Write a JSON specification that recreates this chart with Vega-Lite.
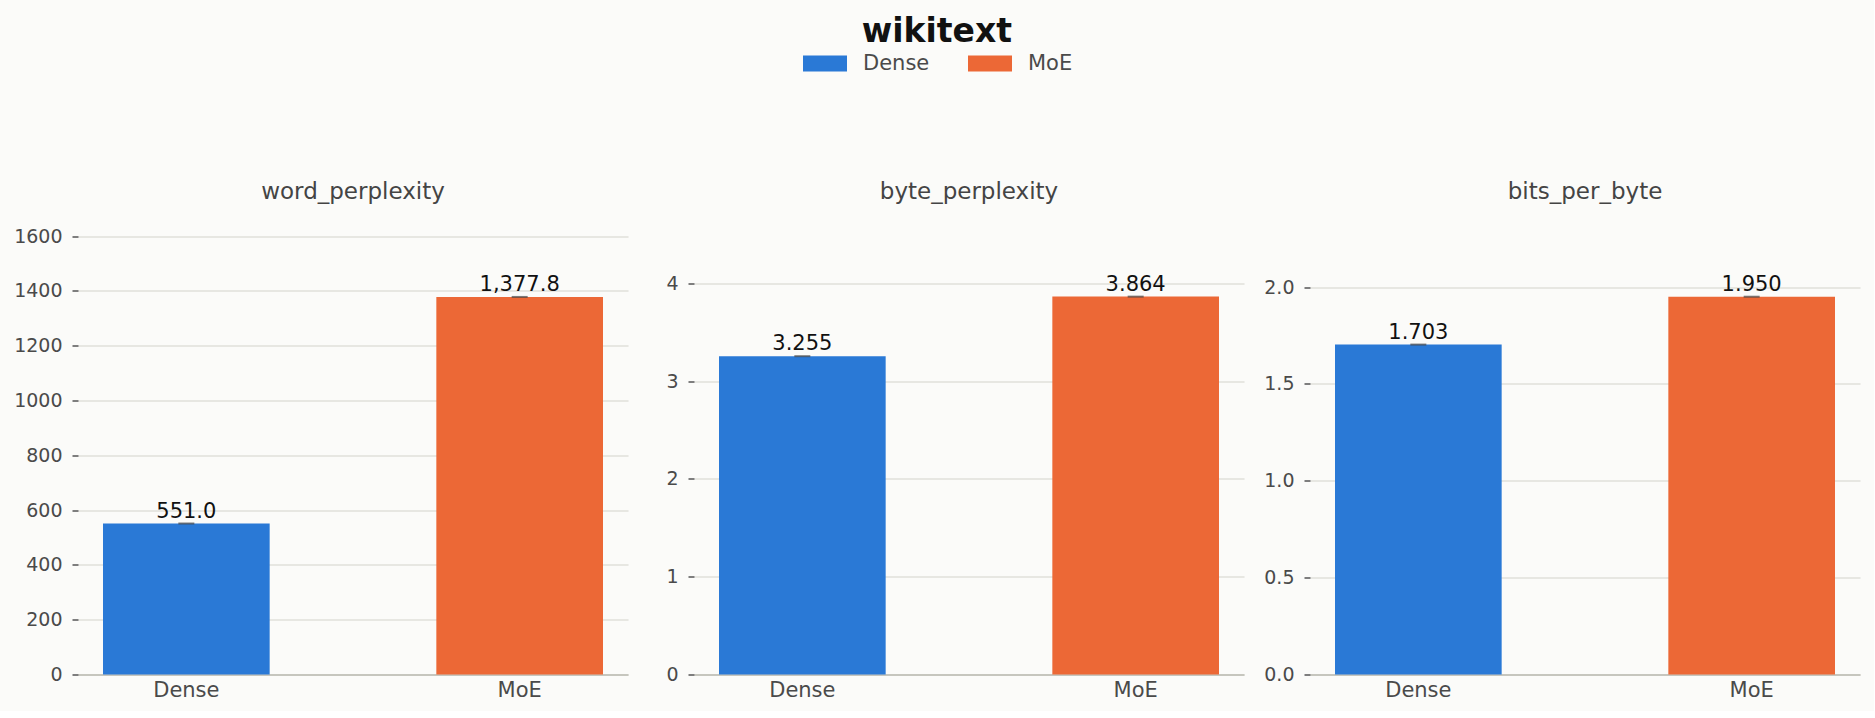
{
  "$schema": "https://vega.github.io/schema/vega-lite/v6.json",
  "background": "#fbfbf9",
  "padding": {"left": 13, "top": 15.5, "right": 14, "bottom": 10},
  "bounds": "flush",
  "spacing": 66,
  "title": {"text": "wikitext", "fontSize": 33, "fontWeight": "bold", "color": "#111111", "anchor": "middle", "offset": -7.5},
  "data": {"values": [
    {"metric": "word_perplexity", "model": "Dense", "value": 551.0},
    {"metric": "word_perplexity", "model": "MoE", "value": 1377.8},
    {"metric": "byte_perplexity", "model": "Dense", "value": 3.255},
    {"metric": "byte_perplexity", "model": "MoE", "value": 3.864},
    {"metric": "bits_per_byte", "model": "Dense", "value": 1.703},
    {"metric": "bits_per_byte", "model": "MoE", "value": 1.950}
  ]},
  "hconcat": [
    {
      "width": 550, "height": 439,
      "title": {"text": "word_perplexity", "offset": 23},
      "transform": [{"filter": "datum.metric === 'word_perplexity'"}],
      "encoding": {
        "x": {"field": "model", "type": "nominal", "sort": ["Dense", "MoE"], "scale": {"paddingInner": 0.5, "paddingOuter": 0.075}},
        "y": {"field": "value", "type": "quantitative", "scale": {"domain": [0, 1602], "nice": false}, "axis": {"values": [0, 200, 400, 600, 800, 1000, 1200, 1400, 1600], "format": "d"}}
      },
      "layer": [
        {"mark": {"type": "bar"}, "encoding": {"color": {"field": "model", "type": "nominal", "scale": {"domain": ["Dense", "MoE"], "range": ["#2a79d6", "#ec6836"]}, "legend": {"orient": "none", "legendX": 725, "legendY": -194, "direction": "horizontal", "title": null}}}},
        {"mark": {"type": "tick", "size": 16, "thickness": 2, "color": "#444444"}, "encoding": {}},
        {"mark": {"type": "text", "dy": -6, "baseline": "alphabetic", "fontSize": 21, "color": "#111111"}, "encoding": {"text": {"field": "value", "type": "quantitative", "format": ",.1f"}}}
      ]
    },
    {
      "width": 550, "height": 439,
      "title": {"text": "byte_perplexity"},
      "transform": [{"filter": "datum.metric === 'byte_perplexity'"}],
      "encoding": {
        "x": {"field": "model", "type": "nominal", "sort": ["Dense", "MoE"], "scale": {"paddingInner": 0.5, "paddingOuter": 0.075}},
        "y": {"field": "value", "type": "quantitative", "scale": {"domain": [0, 4.489], "nice": false}, "axis": {"values": [0, 1, 2, 3, 4], "format": "d"}}
      },
      "layer": [
        {"mark": {"type": "bar"}, "encoding": {"color": {"field": "model", "type": "nominal", "scale": {"domain": ["Dense", "MoE"], "range": ["#2a79d6", "#ec6836"]}, "legend": {"orient": "none", "legendX": 725, "legendY": -194, "direction": "horizontal", "title": null}}}},
        {"mark": {"type": "tick", "size": 16, "thickness": 2, "color": "#444444"}, "encoding": {}},
        {"mark": {"type": "text", "dy": -6, "baseline": "alphabetic", "fontSize": 21, "color": "#111111"}, "encoding": {"text": {"field": "value", "type": "quantitative", "format": ".3f"}}}
      ]
    },
    {
      "width": 550, "height": 439,
      "title": {"text": "bits_per_byte"},
      "transform": [{"filter": "datum.metric === 'bits_per_byte'"}],
      "encoding": {
        "x": {"field": "model", "type": "nominal", "sort": ["Dense", "MoE"], "scale": {"paddingInner": 0.5, "paddingOuter": 0.075}},
        "y": {"field": "value", "type": "quantitative", "scale": {"domain": [0, 2.266], "nice": false}, "axis": {"values": [0, 0.5, 1, 1.5, 2], "format": ".1f"}}
      },
      "layer": [
        {"mark": {"type": "bar"}, "encoding": {"color": {"field": "model", "type": "nominal", "scale": {"domain": ["Dense", "MoE"], "range": ["#2a79d6", "#ec6836"]}, "legend": {"orient": "none", "legendX": 725, "legendY": -194, "direction": "horizontal", "title": null}}}},
        {"mark": {"type": "tick", "size": 16, "thickness": 2, "color": "#444444"}, "encoding": {}},
        {"mark": {"type": "text", "dy": -6, "baseline": "alphabetic", "fontSize": 21, "color": "#111111"}, "encoding": {"text": {"field": "value", "type": "quantitative", "format": ".3f"}}}
      ]
    }
  ],
  "config": {
    "font": "DejaVu Sans",
    "view": {"stroke": null},
    "title": {"fontSize": 23, "fontWeight": "normal", "color": "#444444", "baseline": "alphabetic", "offset": 32},
    "axisX": {"title": null, "labelAngle": 0, "ticks": false, "domain": true, "domainColor": "#c6c6be", "domainWidth": 2, "labelFontSize": 21, "labelColor": "#4a4a4a", "labelPadding": 5, "grid": false},
    "axisY": {"title": null, "domain": false, "ticks": true, "tickSize": 6, "tickColor": "#555555", "tickWidth": 1.5, "labelPadding": 10, "labelFontSize": 19, "labelColor": "#4a4a4a", "grid": true, "gridColor": "#e0e0da", "gridWidth": 1.5},
    "legend": {"symbolType": "M-1,-0.364H1V0.364H-1Z", "symbolSize": 1936, "symbolStrokeWidth": 0, "labelFontSize": 21, "labelColor": "#4a4a4a", "labelOffset": 16, "columnPadding": 38, "padding": 0}
  }
}
